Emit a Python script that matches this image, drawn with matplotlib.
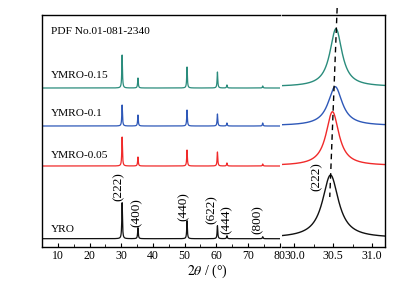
import numpy as np
import matplotlib
matplotlib.use("Agg")
import matplotlib.pyplot as plt
from matplotlib.ticker import MultipleLocator

plt.rcParams['font.family'] = ['Liberation Serif', 'DejaVu Serif']
plt.rcParams['mathtext.fontset'] = 'stix'

# ---- data ----
samples = ["YRO", "YMRO-0.05", "YMRO-0.1", "YMRO-0.15"]
colors = ["#111111", "#f02a2a", "#2e58b8", "#2a8c7c"]
offsets = [8.3, 81, 121, 159]

# left panel: peak positions (deg) and heights for each sample
peak_pos = [30.3, 35.3, 50.8, 60.4, 63.4, 74.7]
peak_heights = {
    "YRO":       [36, 11, 18, 13, 3, 2],
    "YMRO-0.05": [29, 9, 16, 14, 3, 2],
    "YMRO-0.1":  [21, 11, 16, 12, 3, 3],
    "YMRO-0.15": [33, 10, 21, 16, 3, 2],
}
peak_fwhm = 0.25

# right panel (zoom of (222) peak): base, position, height, fwhm
zoom_base = [9.0, 81.3, 121.3, 160.3]
zoom_pos = [30.465, 30.49, 30.525, 30.535]
zoom_height = [63, 54, 39, 58]
zoom_fwhm = [0.25, 0.20, 0.22, 0.19]

hkl_labels = ["(222)", "(400)", "(440)", "(622)", "(444)", "(800)"]
hkl_x = [29.3, 34.9, 49.7, 58.6, 63.3, 73.1]
hkl_y = [60, 34, 40, 37, 27, 27]

label_y = [18, 92, 134, 172]

def lorentz(x, pos, h, w):
    g = w / 2.0
    return h / (1.0 + ((x - pos) / g) ** 2)

fig = plt.figure(figsize=(4.07, 2.81), dpi=100)
W, H = 407, 281
bot = (H - 247) / H
hgt = 232 / H
axL = fig.add_axes([42 / W, bot, 237.5 / W, hgt])
axR = fig.add_axes([282 / W, bot, 103.3 / W, hgt])

xL = np.linspace(5, 80, 6000)
for s, c, off in zip(samples, colors, offsets):
    y = np.full_like(xL, off)
    for p, h in zip(peak_pos, peak_heights[s]):
        y += lorentz(xL, p, h, peak_fwhm)
    axL.plot(xL, y, color=c, lw=0.9)

xlimR = (29.84, 31.17)
xR = np.linspace(xlimR[0], xlimR[1], 800)
for c, b, p, h, w in zip(colors, zoom_base, zoom_pos, zoom_height, zoom_fwhm):
    y = b + lorentz(xR, p, h, w)
    axR.plot(xR, y, color=c, lw=1.0)

for ax in (axL, axR):
    ax.set_ylim(0, 232)
    ax.set_yticks([])
    ax.tick_params(axis='x', direction='in', labelsize=8.5, length=3, width=0.8, pad=2.5)
    ax.tick_params(axis='x', which='minor', direction='in', length=2, width=0.6)
    for sp in ax.spines.values():
        sp.set_linewidth(1.0)

axL.set_xlim(5, 80)
axL.xaxis.set_major_locator(MultipleLocator(10))
axL.xaxis.set_minor_locator(MultipleLocator(5))
axL.spines['right'].set_visible(False)

axR.set_xlim(*xlimR)
axR.set_xticks([30.0, 30.5, 31.0])
axR.set_xticklabels(["30.0", "30.5", "31.0"])
axR.xaxis.set_minor_locator(MultipleLocator(0.25))
axR.spines['left'].set_visible(False)

for s, ly in zip(samples, label_y):
    axL.text(7.7, ly, s, fontsize=8.2, va='center', ha='left')
axL.text(7.7, 216, "PDF No.01-081-2340", fontsize=8.2, va='center', ha='left')

for t, x, y in zip(hkl_labels, hkl_x, hkl_y):
    axL.text(x, y, t, rotation=90, fontsize=9.5, ha='center', va='center')

axR.text(30.28, 70, "(222)", rotation=90, fontsize=9.5, ha='center', va='center')
axR.plot([30.55, 30.455], [239, 50], color='black', lw=1.0, ls=(0, (4, 3)), clip_on=False)

fig.text(207 / W, 1 - 271 / H, r"$2\theta$ / (°)", fontsize=10, ha='center', va='center')

fig.savefig("out.png", dpi=100)
